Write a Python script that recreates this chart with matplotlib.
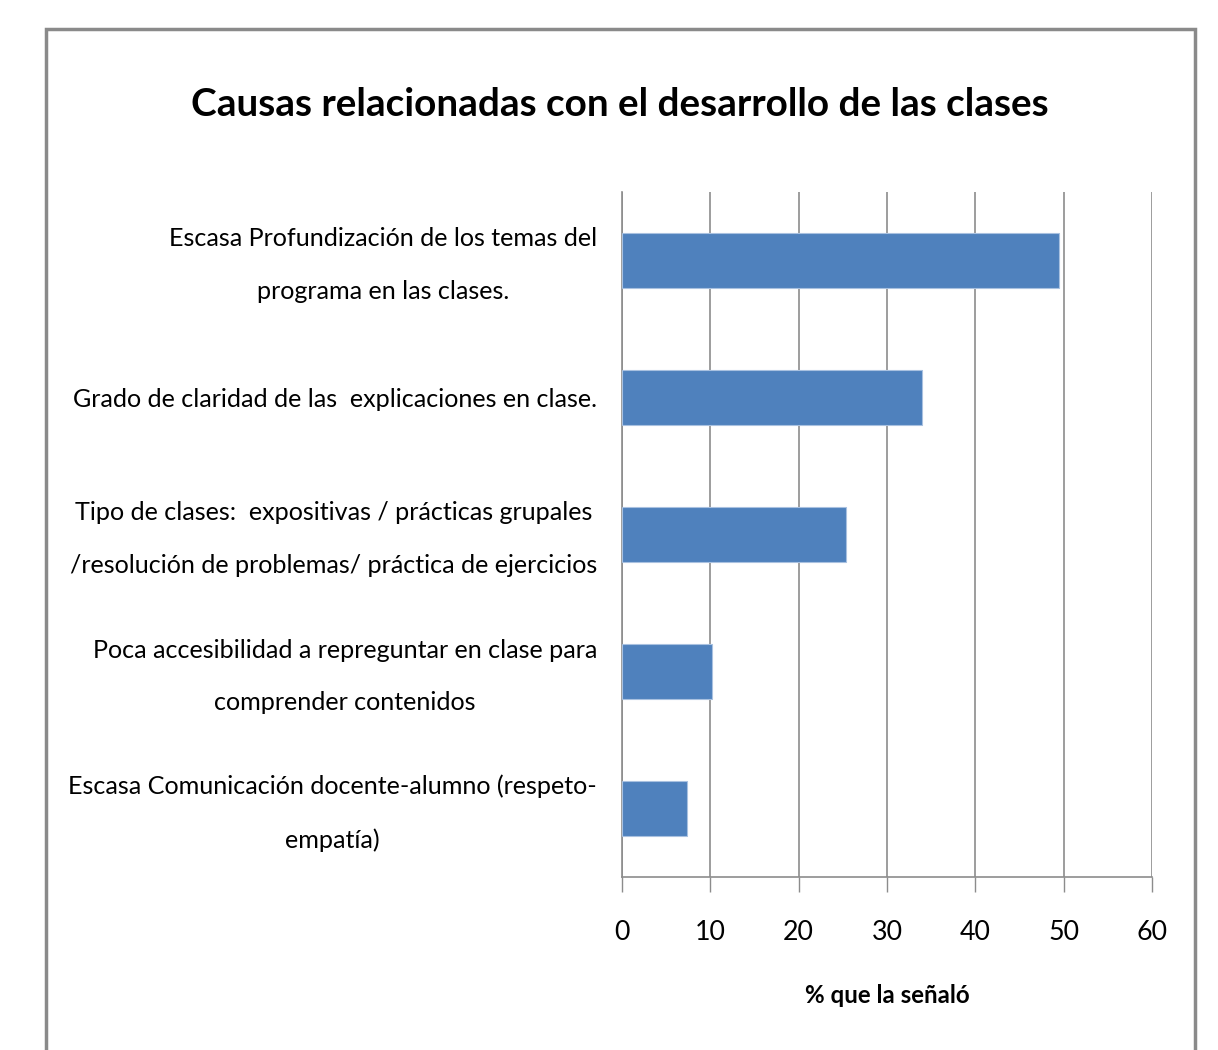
import matplotlib
matplotlib.use("Agg")
import matplotlib.pyplot as plt
from matplotlib.patches import Rectangle
from matplotlib.transforms import ScaledTranslation

categories = [
    "Escasa Profundización de los temas del\nprograma en las clases.",
    "Grado de claridad de las  explicaciones en clase.",
    "Tipo de clases:  expositivas / prácticas grupales\n/resolución de problemas/ práctica de ejercicios",
    "Poca accesibilidad a repreguntar en clase para\ncomprender contenidos",
    "Escasa Comunicación docente-alumno (respeto-\nempatía)",
]
values = [49.5, 34.0, 25.4, 10.2, 7.4]
xticks = [0, 10, 20, 30, 40, 50, 60]
title = "Causas relacionadas con el desarrollo de las clases"
xlabel = "% que la señaló"

fam = ["Lato", "DejaVu Sans"]

fig = plt.figure(figsize=(12.18, 10.5), dpi=100)
renderer = fig.canvas.get_renderer()


def fit_size(text, target_px, weight="normal", base=20):
    t = fig.text(0, 0, text, family=fam, fontsize=base, fontweight=weight)
    w = t.get_window_extent(renderer).width
    t.remove()
    return base * target_px / w


lab_fs = fit_size("Escasa Profundización de los temas del", 430)
title_fs = fit_size(title, 858, "bold")
xlab_fs = fit_size(xlabel, 165, "bold")
tick_fs = fit_size("60", 31)
line_px = 54.0
lab_ls = 1.42 * line_px / (lab_fs * 100 / 72 * 1.2)

ax = fig.add_axes([622 / 1218, 1 - 877 / 1050, 530 / 1218, 685 / 1050])

ypos = list(range(len(categories)))
ax.barh(ypos, values, height=0.4, color="#4F81BD", edgecolor="#a9c1e0", linewidth=0.8, zorder=3)
ax.set_xlim(0, 60)
ax.set_ylim(len(categories) - 0.5, -0.5)
ax.set_xticks(xticks)
ax.set_xticklabels([str(t) for t in xticks], family=fam, fontsize=tick_fs)
ax.set_yticks(ypos)
ax.set_yticklabels(categories, family=fam, fontsize=lab_fs, ha="right",
                   multialignment="center", linespacing=lab_ls)
ax.tick_params(axis="y", length=0, pad=18)
ax.tick_params(axis="x", direction="out", length=11, width=1, color="#8c8c8c", pad=20)
ax.grid(axis="x", color="#8c8c8c", linewidth=1.2, zorder=0)
for s in ["top", "right"]:
    ax.spines[s].set_visible(False)
ax.spines["left"].set_color("#8c8c8c")
ax.spines["bottom"].set_color("#8c8c8c")
ax.spines["left"].set_linewidth(1.2)
ax.spines["bottom"].set_linewidth(1.2)

shift = ScaledTranslation(0, 0.12, fig.dpi_scale_trans)
for lbl in ax.get_yticklabels():
    if "\n" in lbl.get_text():
        lbl.set_transform(lbl.get_transform() + shift)

ax.set_xlabel(xlabel, family=fam, fontsize=xlab_fs, fontweight="bold", labelpad=28)

fig.text(620 / 1218, 1 - 105 / 1050, title, family=fam, fontsize=title_fs,
         fontweight="bold", ha="center", va="center")

frame = Rectangle((46 / 1218, -0.05), (1195 - 46) / 1218, 0.05 + 1 - 29 / 1050,
                  transform=fig.transFigure, fill=False, edgecolor="#8a8a8a",
                  linewidth=2.5, clip_on=False)
fig.add_artist(frame)

fig.savefig("out.png", dpi=100, facecolor="white")
